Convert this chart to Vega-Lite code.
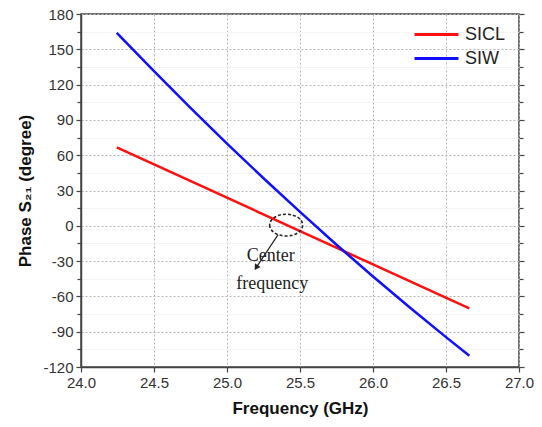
{
  "$schema": "https://vega.github.io/schema/vega-lite/v6.json",
  "width": 438,
  "height": 353,
  "autosize": "none",
  "padding": {"left": 81, "top": 14, "right": 23, "bottom": 60},
  "background": "white",
  "config": {
    "view": {"stroke": "#444", "strokeWidth": 1.5},
    "font": "Liberation Sans",
    "axis": {"domainColor": "#444", "domainWidth": 1.5, "tickColor": "#444", "tickWidth": 1.2, "labelColor": "#333", "labelFontSize": 15, "titleColor": "#111", "titleFontSize": 17, "titleFontWeight": "bold"}
  },
  "datasets": {
    "lines": [
      {"series": "SICL", "x": 24.245, "y": 66.6},
      {"series": "SICL", "x": 26.66, "y": -70.2},
      {"series": "SIW", "x": 24.245, "y": 164.0},
      {"series": "SIW", "x": 24.5, "y": 131.4},
      {"series": "SIW", "x": 24.75, "y": 100.2},
      {"series": "SIW", "x": 25.0, "y": 69.9},
      {"series": "SIW", "x": 25.25, "y": 40.4},
      {"series": "SIW", "x": 25.5, "y": 11.8},
      {"series": "SIW", "x": 25.75, "y": -16.1},
      {"series": "SIW", "x": 26.0, "y": -43.1},
      {"series": "SIW", "x": 26.25, "y": -69.2},
      {"series": "SIW", "x": 26.5, "y": -94.6},
      {"series": "SIW", "x": 26.66, "y": -110.4}
    ],
    "arrow": [{"x": 25.35, "y": -7.5, "x2": 25.2, "y2": -35.5}],
    "ellipse": [{"x": 25.405, "y": 0.6}],
    "notes": [
      {"label": "Center", "x": 25.3, "y": -25.5},
      {"label": "frequency", "x": 25.31, "y": -49.3}
    ]
  },
  "resolve": {"axis": {"y": "independent"}},
  "layer": [
    {
      "data": {"name": "lines"},
      "mark": {"type": "line", "strokeWidth": 2.5},
      "encoding": {
        "x": {
          "field": "x", "type": "quantitative",
          "scale": {"domain": [24, 27], "nice": false, "zero": false},
          "axis": {
            "title": "Frequency (GHz)",
            "values": [24, 24.25, 24.5, 24.75, 25, 25.25, 25.5, 25.75, 26, 26.25, 26.5, 26.75, 27],
            "labelExpr": "(datum.value * 2) % 1 === 0 ? format(datum.value, '.1f') : ''",
            "labelOverlap": false,
            "tickSize": {"condition": {"test": "(datum.value * 2) % 1 === 0", "value": 5}, "value": 4},
            "gridColor": {"condition": {"test": "(datum.value * 2) % 1 === 0", "value": "#b5b5b5"}, "value": "#f0f0f0"},
            "gridDash": {"condition": {"test": "(datum.value * 2) % 1 === 0", "value": [2, 2]}, "value": [1, 0]},
            "labelPadding": 3,
            "titlePadding": 10,
            "labelFlush": false
          }
        },
        "y": {
          "field": "y", "type": "quantitative",
          "scale": {"domain": [-120, 180], "nice": false, "zero": false},
          "axis": {
            "orient": "left",
            "title": "Phase S₂₁ (degree)",
            "values": [-120, -105, -90, -75, -60, -45, -30, -15, 0, 15, 30, 45, 60, 75, 90, 105, 120, 135, 150, 165, 180],
            "labelExpr": "'' + datum.value",
            "labelOverlap": false,
            "labelOpacity": {"condition": {"test": "datum.value % 30 === 0", "value": 1}, "value": 0},
            "labelFontSize": {"condition": {"test": "datum.value % 30 === 0", "value": 15}, "value": 2},
            "tickSize": {"condition": {"test": "datum.value % 30 === 0", "value": 5}, "value": 4},
            "gridColor": {"condition": {"test": "datum.value % 30 === 0", "value": "#b5b5b5"}, "value": "#f0f0f0"},
            "gridDash": {"condition": {"test": "datum.value % 30 === 0", "value": [2, 2]}, "value": [1, 0]},
            "labelPadding": 3,
            "titlePadding": 8,
            "labelFlush": false
          }
        },
        "color": {
          "field": "series", "type": "nominal",
          "scale": {"domain": ["SICL", "SIW"], "range": ["#ff1010", "#1010ff"]},
          "legend": {
            "orient": "none", "legendX": 343, "legendY": 8, "title": null,
            "symbolType": "M-2,0H2", "symbolSize": 484, "symbolStrokeWidth": 3,
            "labelFontSize": 18, "labelColor": "#222", "labelOffset": 16, "rowPadding": 2
          }
        }
      }
    },
    {
      "data": {"name": "lines"},
      "mark": {"type": "line", "opacity": 0},
      "encoding": {
        "x": {"field": "x", "type": "quantitative"},
        "y": {
          "field": "y", "type": "quantitative",
          "axis": {
            "orient": "right",
            "title": null,
            "values": [-120, -105, -90, -75, -60, -45, -30, -15, 0, 15, 30, 45, 60, 75, 90, 105, 120, 135, 150, 165, 180],
            "labels": false,
            "grid": false,
            "domain": false,
            "tickSize": {"condition": {"test": "datum.value % 30 === 0", "value": 5}, "value": 4}
          }
        },
        "detail": {"field": "series"}
      }
    },
    {
      "data": {"name": "arrow"},
      "mark": {"type": "rule", "color": "#222", "strokeWidth": 1.2},
      "encoding": {
        "x": {"field": "x", "type": "quantitative"},
        "y": {"field": "y", "type": "quantitative", "axis": null},
        "x2": {"field": "x2"},
        "y2": {"field": "y2"}
      }
    },
    {
      "data": {"name": "arrow"},
      "mark": {"type": "point", "shape": "triangle-down", "filled": true, "color": "#222", "opacity": 1, "size": 45, "angle": 33},
      "encoding": {
        "x": {"field": "x2", "type": "quantitative"},
        "y": {"field": "y2", "type": "quantitative", "axis": null}
      }
    },
    {
      "data": {"name": "ellipse"},
      "mark": {"type": "point", "shape": "M-1,0 A1,0.66 0 1,0 1,0 A1,0.66 0 1,0 -1,0 Z", "filled": false, "color": "#222", "opacity": 1, "strokeWidth": 1.6, "strokeDash": [3, 2], "size": 1089},
      "encoding": {
        "x": {"field": "x", "type": "quantitative"},
        "y": {"field": "y", "type": "quantitative", "axis": null}
      }
    },
    {
      "data": {"name": "notes"},
      "mark": {"type": "text", "font": "Liberation Serif", "fontSize": 18, "color": "#222", "align": "center", "baseline": "middle"},
      "encoding": {
        "x": {"field": "x", "type": "quantitative"},
        "y": {"field": "y", "type": "quantitative", "axis": null},
        "text": {"field": "label"}
      }
    }
  ]
}
